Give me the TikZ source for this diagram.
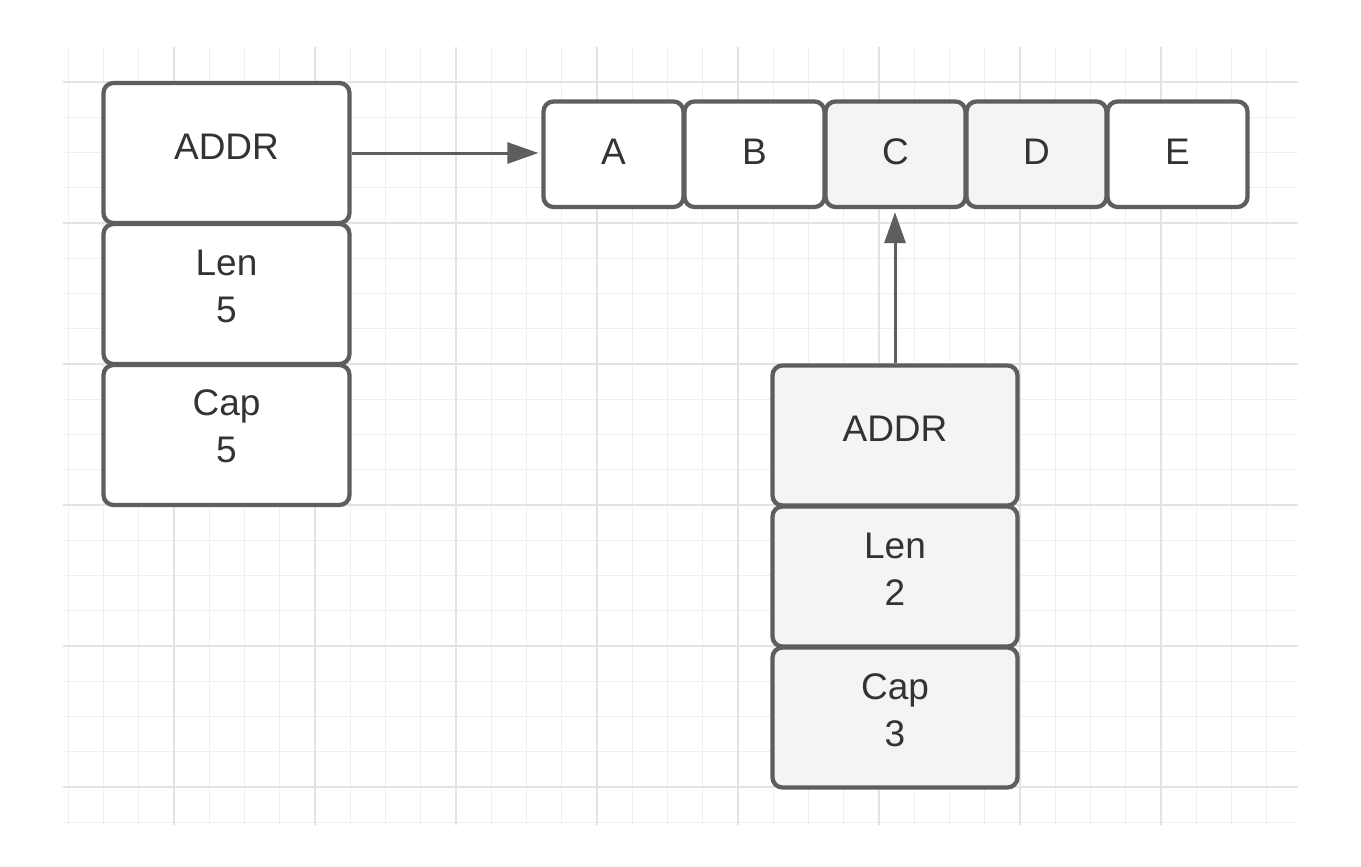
\documentclass[tikz,border=0pt]{standalone}
\usepackage{fontspec}
\setmainfont{Liberation Sans}
\usetikzlibrary{arrows.meta}
\definecolor{edge}{HTML}{5E5E5E}
\definecolor{ink}{HTML}{333333}
\definecolor{shade}{HTML}{F5F4F5}
\definecolor{gridminor}{HTML}{EFEFEF}
\definecolor{gridmajor}{HTML}{E3E3E3}
\begin{document}
\begin{tikzpicture}[x=1pt,y=-1pt,
  cell/.style={draw=edge, line width=4.3pt, rounded corners=10pt, rectangle, inner sep=0pt, fill=white},
  tall/.style={cell, minimum width=246pt, minimum height=140pt},
  narrowtall/.style={cell, minimum width=245pt, minimum height=140pt},
  slot/.style={cell, minimum width=140pt, minimum height=105.5pt},
  grayfill/.style={fill=shade},
  txt/.style={text=ink, font=\fontsize{37}{47}\selectfont, align=center, inner sep=0pt},
  link/.style={draw=edge, line width=3pt, -{Triangle[length=31pt,width=21pt]}, shorten >=3pt},
  minorline/.style={draw=gridminor, line width=1pt},
  majorline/.style={draw=gridmajor, line width=1.2pt}]
\fill[white] (0,0) rectangle (1361,867);
\useasboundingbox (0,0) rectangle (1361,867);
% grid
\foreach \k in {0,...,21} \draw[minorline] (63,{82+\k*35.25}) -- (1298,{82+\k*35.25});
\foreach \k in {0,...,34} \draw[minorline] ({68.25+\k*35.25},47) -- ({68.25+\k*35.25},825);
\foreach \k in {0,4,...,20} \draw[majorline] (63,{82+\k*35.25}) -- (1298,{82+\k*35.25});
\foreach \k in {3,7,...,31} \draw[majorline] ({68.25+\k*35.25},47) -- ({68.25+\k*35.25},825);
% left stack
\node[tall] (la) at (226.5,153) {};
\node[tall] (ll) at (226.5,294) {};
\node[tall] (lc) at (226.5,435) {};
\node[txt] (lat) at (226.5,146.5) {ADDR};
\node[txt] (llt) at (226.5,286.5) {Len\\5};
\node[txt] (lct) at (226.5,426.5) {Cap\\5};
% array
\node[slot] (A) at (613.5,154.25) {};
\node[slot] (B) at (754.5,154.25) {};
\node[slot,grayfill] (C) at (895.5,154.25) {};
\node[slot,grayfill] (D) at (1036.5,154.25) {};
\node[slot] (E) at (1177.5,154.25) {};
\node[txt] (At) at (613.5,151.5) {A};
\node[txt] (Bt) at (754.5,151.5) {B};
\node[txt] (Ct) at (895.5,151.5) {C};
\node[txt] (Dt) at (1036.5,151.5) {D};
\node[txt] (Et) at (1177.5,151.5) {E};
% lower stack
\node[narrowtall,grayfill] (ba) at (895,435.5) {};
\node[narrowtall,grayfill] (bl) at (895,576.5) {};
\node[narrowtall,grayfill] (bc) at (895,717.5) {};
\node[txt] (bat) at (895,428.5) {ADDR};
\node[txt] (blt) at (895,569.5) {Len\\2};
\node[txt] (bct) at (895,710) {Cap\\3};
% connectors
\draw[link] (la.east) -- (la.east -| A.west);
\draw[link] (ba.north) -- (ba.north |- C.south);
\end{tikzpicture}
\end{document}
